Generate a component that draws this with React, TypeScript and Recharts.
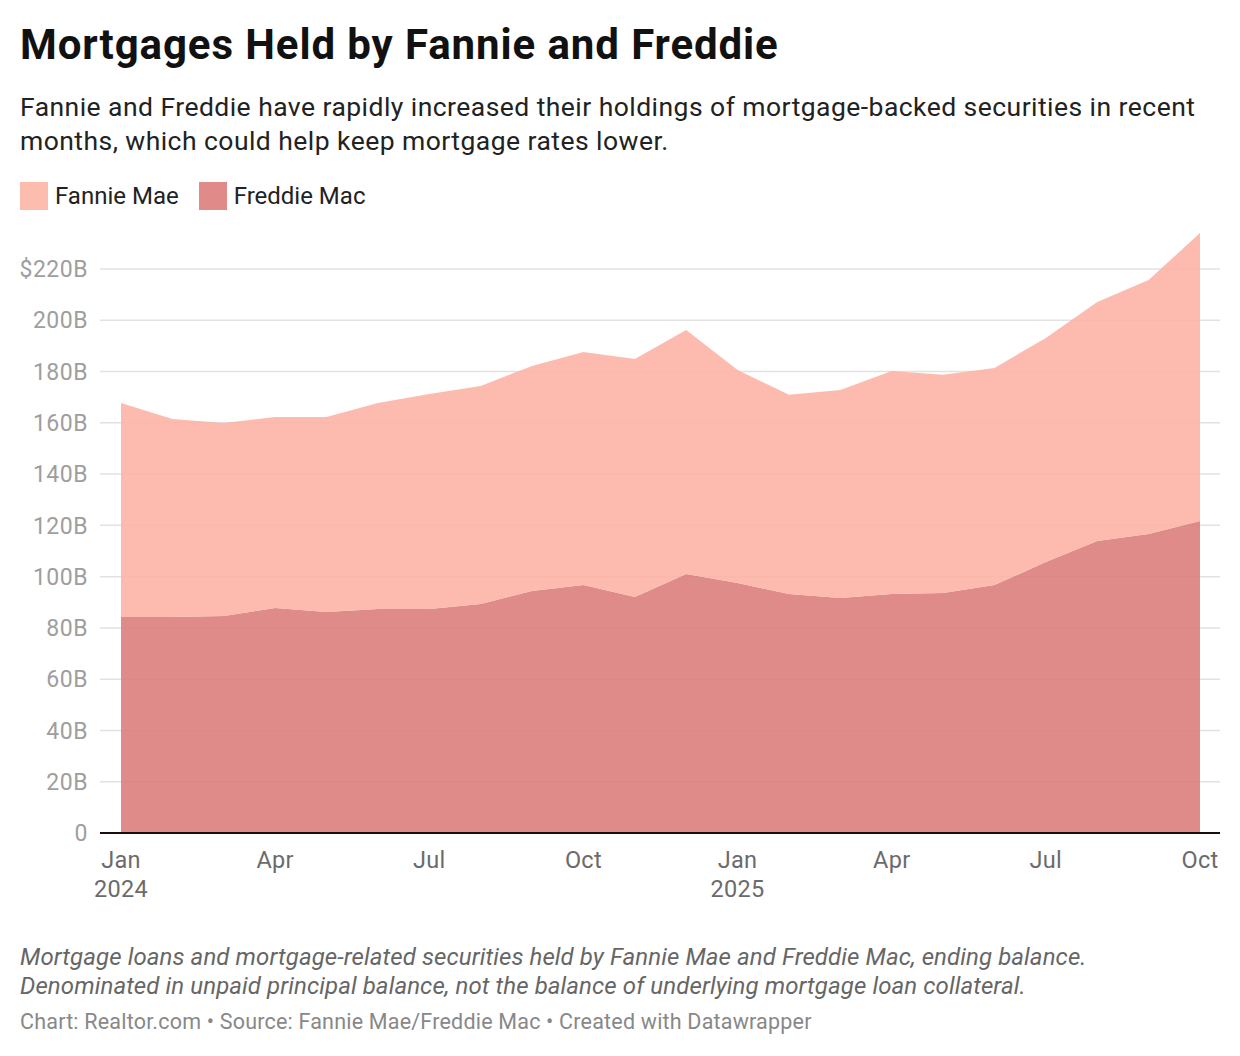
import { AreaChart, Area, XAxis, YAxis, CartesianGrid } from 'recharts';

const months = [
  '2024-01', '2024-02', '2024-03', '2024-04', '2024-05', '2024-06', '2024-07', '2024-08',
  '2024-09', '2024-10', '2024-11', '2024-12', '2025-01', '2025-02', '2025-03', '2025-04',
  '2025-05', '2025-06', '2025-07', '2025-08', '2025-09', '2025-10',
];

// billions of dollars
const freddieMac = [
  84.3, 84.3, 84.6, 87.8, 86.2, 87.4, 87.4, 89.3, 94.4, 96.7, 92.1, 101.0,
  97.5, 93.2, 91.7, 93.2, 93.6, 96.7, 105.7, 113.9, 116.6, 121.7,
];
const fannieMae = [
  83.4, 77.2, 75.3, 74.5, 76.1, 80.3, 83.8, 85.1, 87.8, 90.9, 92.8, 95.2,
  83.1, 77.7, 81.1, 87.0, 85.1, 84.7, 87.4, 93.2, 99.1, 112.3,
];

const xTicks = ['2024-01', '2024-04', '2024-07', '2024-10', '2025-01', '2025-04', '2025-07', '2025-10'];
const monthNames = ['Jan', 'Feb', 'Mar', 'Apr', 'May', 'Jun', 'Jul', 'Aug', 'Sep', 'Oct', 'Nov', 'Dec'];
const yTicks = [0, 20, 40, 60, 80, 100, 120, 140, 160, 180, 200, 220];

const data = months.map((m, i) => ({ month: m, freddie: freddieMac[i], fannie: fannieMae[i] }));

const FONT = 'Roboto, "Noto Sans", sans-serif';

const MonthTick = ({ x, y, payload }: any) => {
  const [yr, mo] = String(payload.value).split('-');
  const label = monthNames[Number(mo) - 1];
  return (
    <g>
      <text x={x} y={y + 35} textAnchor="middle" fontSize={23.5} letterSpacing={0.3} fill="#6b6b6b" fontFamily={FONT}>
        {label}
      </text>
      {mo === '01' && (
        <text x={x} y={y + 64} textAnchor="middle" fontSize={23.5} letterSpacing={0.3} fill="#6b6b6b" fontFamily={FONT}>
          {yr}
        </text>
      )}
    </g>
  );
};

export default function App() {
  return (
    <div style={{ position: 'absolute', left: 0, top: 0, width: 1240, height: 1056, background: '#fff', fontFamily: FONT }}>
      <div style={{ position: 'absolute', left: 20, top: 20, fontSize: 42, letterSpacing: 0.9, fontWeight: 700, color: '#111', lineHeight: '50px', whiteSpace: 'nowrap' }}>
        Mortgages Held by Fannie and Freddie
      </div>
      <div style={{ position: 'absolute', left: 20, top: 90, width: 1218, fontSize: 26.5, letterSpacing: 0.45, color: '#222', lineHeight: '34px' }}>
        Fannie and Freddie have rapidly increased their holdings of mortgage-backed securities in recent months, which could help keep mortgage rates lower.
      </div>
      <div style={{ position: 'absolute', left: 20, top: 182, display: 'flex', alignItems: 'center', fontSize: 24, color: '#222', height: 28 }}>
        <span style={{ width: 28, height: 28, background: '#fcbcae', display: 'inline-block', marginRight: 7 }} />
        <span style={{ marginRight: 20 }}>Fannie Mae</span>
        <span style={{ width: 28, height: 28, background: '#e08b89', display: 'inline-block', marginRight: 7 }} />
        <span>Freddie Mac</span>
      </div>

      <div style={{ position: 'absolute', left: 0, top: 200 }}>
        <AreaChart width={1240} height={740} data={data} margin={{ top: 17.7, right: 20, bottom: 47, left: 0 }}>
          <CartesianGrid vertical={false} horizontalValues={yTicks} stroke="#e2e2e2" strokeWidth={1.5} />
          <XAxis
            dataKey="month"
            ticks={xTicks}
            interval={0}
            tick={<MonthTick />}
            tickLine={false}
            tickSize={0}
            tickMargin={0}
            height={60}
            padding={{ left: 21, right: 20 }}
            axisLine={{ stroke: '#1c0d0d', strokeWidth: 2 }}
          />
          <YAxis
            domain={[0, 240]}
            ticks={yTicks}
            interval={0}
            width={100}
            axisLine={false}
            tickLine={false}
            tickSize={0}
            tickMargin={12}
            tick={{ fill: '#9e9e9e', fontSize: 23, letterSpacing: 0.5, fontFamily: FONT }}
            tickFormatter={(v: number) => (v === 0 ? '0' : v === 220 ? `$${v}B` : `${v}B`)}
          />
          <Area
            type="linear"
            dataKey="freddie"
            stackId="a"
            stroke="none"
            fill="#dc7e7c"
            fillOpacity={0.9}
            isAnimationActive={false}
          />
          <Area
            type="linear"
            dataKey="fannie"
            stackId="a"
            stroke="none"
            fill="#fcb4a5"
            fillOpacity={0.9}
            isAnimationActive={false}
          />
        </AreaChart>
      </div>

      <div style={{ position: 'absolute', left: 20, top: 943, fontSize: 24, letterSpacing: 0.1, fontStyle: 'italic', color: '#666', lineHeight: '29px', whiteSpace: 'nowrap' }}>
        Mortgage loans and mortgage-related securities held by Fannie Mae and Freddie Mac, ending balance.
        <br />
        Denominated in unpaid principal balance, not the balance of underlying mortgage loan collateral.
      </div>
      <div style={{ position: 'absolute', left: 20, top: 1009, fontSize: 21.5, letterSpacing: 0.2, color: '#888', lineHeight: '26px', whiteSpace: 'nowrap' }}>
        Chart: Realtor.com • Source: Fannie Mae/Freddie Mac • Created with Datawrapper
      </div>
    </div>
  );
}
